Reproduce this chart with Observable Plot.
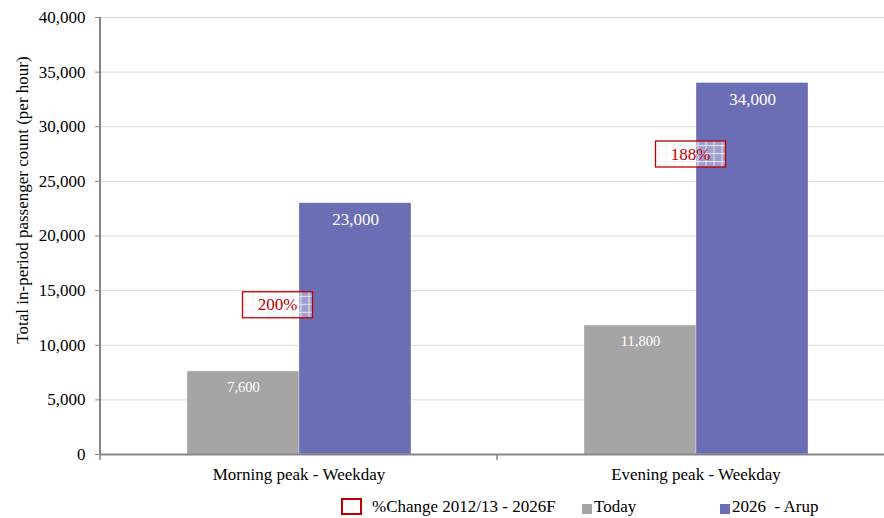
<!DOCTYPE html>
<html>
<head>
<meta charset="utf-8">
<script src="https://cdn.jsdelivr.net/npm/d3@7"></script>
<script src="https://cdn.jsdelivr.net/npm/@observablehq/plot@0.6"></script>
<style>
  body { margin: 0; background: #fff; font-family: "Liberation Serif", "Times New Roman", serif; }
  #chart svg { display: block; overflow: hidden; }
  #chart svg text { font-family: "Liberation Serif", "Times New Roman", serif !important; }
  #legend { position: relative; width: 884px; height: 26px; font-size: 17px; color: #000; }
  #legend .item { position: absolute; top: 5px; line-height: 20px; white-space: pre; }
  #legend .box { position: absolute; box-sizing: border-box; }
</style>
</head>
<body>
<div id="chart"></div>
<div id="legend"></div>
<script>
// Passenger counts per peak period
const groups = ["Morning peak - Weekday", "Evening peak - Weekday"];
const seriesNames = ["Today", "2026  - Arup"];
const seriesColors = ["#a5a5a5", "#6b6db5"];
const today = [7600, 11800];
const arup = [23000, 34000];
// Growth annotations and the count level they sit at
const pctChange = ["200%", "188%"];
const pctAt = [13700, 27500];
const pctLegend = "%Change 2012/13 - 2026F";
const yTicks = [0, 5000, 10000, 15000, 20000, 25000, 30000, 35000, 40000];
const yLabel = "Total in-period passenger count (per hour)";

const rows = groups.flatMap((g, i) => [
  {group: g, series: seriesNames[0], value: today[i]},
  {group: g, series: seriesNames[1], value: arup[i]}
]);
const pctRows = groups.map((g, i) => ({group: g, series: seriesNames[1], text: pctChange[i], y: pctAt[i]}));

const W = 884, H = 492;
const fmt = d3.format(",");
const serif = "'Liberation Serif', 'Times New Roman', serif";

const chart = Plot.plot({
  width: W,
  height: H,
  marginLeft: 100,
  marginRight: 0,
  marginTop: 17,
  marginBottom: 38,
  style: {fontFamily: serif, background: "#fff", color: "#000"},
  fx: {domain: groups, range: [100, 894], padding: 0},
  x: {domain: seriesNames, paddingInner: 0, paddingOuter: 0.757, axis: null},
  y: {domain: [0, 40000], range: [454, 17]},
  color: {domain: seriesNames, range: seriesColors},
  marks: [
    Plot.gridY(yTicks, {stroke: "#d9d9d9", strokeOpacity: 1, strokeWidth: 1}),
    Plot.barY(rows, {fx: "group", x: "series", y: "value", fill: "series",
      stroke: "#ffffff", strokeOpacity: 0.3, strokeWidth: 1}),
    Plot.text(rows, {fx: "group", x: "series", y: "value", text: d => fmt(d.value),
      fill: "white", dy: 16, fontFamily: serif, fontSize: d => d.series === seriesNames[0] ? 14.5 : 17}),
    Plot.ruleY([0], {stroke: "#868686", strokeWidth: 2}),
    Plot.text(pctRows.filter((d, i) => i === 0), {fx: "group", x: "series", y: "y", text: "text",
      fill: "#c00000", fontSize: 17, fontFamily: serif, dx: -78}),
    Plot.text(pctRows.filter((d, i) => i === 1), {fx: "group", x: "series", y: "y", text: "text",
      fill: "#c00000", fontSize: 17, fontFamily: serif, dx: -62}),
    Plot.axisY({ticks: yTicks, tickFormat: d => fmt(d), tickSize: 5, tickPadding: 10, fontSize: 17,
      stroke: "#868686", label: null}),
    Plot.axisFx({anchor: "bottom", tickSize: 0, tickPadding: 13, fontSize: 17, label: null})
  ]
});

document.getElementById("chart").appendChild(chart);

const svg = d3.select(chart);
const yS = chart.scale("y");
const fxS = chart.scale("fx");
const fxStart = g => fxS.apply ? fxS.apply(g) : fxS.range[0] + groups.indexOf(g) * fxS.step;
const y0 = yS.apply ? yS.apply(0) : 454;
const yTop = yS.apply ? yS.apply(40000) : 17;

// Hatched fill used behind the growth labels
const defs = svg.insert("defs", ":first-child");
const pat = defs.append("pattern").attr("id", "pctgrid")
  .attr("width", 8).attr("height", 8).attr("patternUnits", "userSpaceOnUse");
pat.append("rect").attr("width", 8).attr("height", 8).attr("fill", "rgba(255,255,255,0.35)");
pat.append("path").attr("d", "M7.5 0V8M0 7.5H8").attr("stroke", "rgba(240,240,246,0.85)").attr("stroke-width", 1);

// Boxes around the growth labels
svg.selectAll("text").filter(function() { return pctChange.includes(this.textContent); }).each(function() {
  const bb = this.getBBox();
  const cx = bb.x + bb.width / 2, cy = bb.y + bb.height / 2;
  const r = d3.select(this.parentNode).insert("rect", () => this)
    .attr("x", cx - 35).attr("y", cy - 13).attr("width", 70).attr("height", 26)
    .attr("fill", "url(#pctgrid)").attr("stroke", "#c00000").attr("stroke-width", 1.3);
  const t = this.getAttribute("transform");
  if (t) r.attr("transform", t);
});

// Value axis line, its title and category boundary ticks
const axisG = svg.append("g").attr("stroke", "#868686");
axisG.append("line").attr("x1", 100).attr("x2", 100).attr("y1", yTop).attr("y2", y0 + 1).attr("stroke-width", 2);
groups.forEach(g => {
  const x = fxStart(g);
  axisG.append("line").attr("x1", x).attr("x2", x).attr("y1", y0).attr("y2", y0 + 6).attr("stroke-width", 1.5);
});
svg.append("text")
  .attr("transform", "translate(22,200) rotate(-90)")
  .attr("text-anchor", "middle").attr("dy", "0.35em")
  .attr("font-size", 17).attr("fill", "#000")
  .text(yLabel);

// Legend
const legend = d3.select("#legend");
legend.append("div").attr("class", "box")
  .style("left", "341px").style("top", "6px").style("width", "21px").style("height", "17px")
  .style("border", "2px solid #c00000");
legend.append("div").attr("class", "item").style("left", "372px").text(pctLegend);
[[582, 594], [720, 732]].forEach(([bx, tx], i) => {
  legend.append("div").attr("class", "box")
    .style("left", bx + "px").style("top", "12px").style("width", "10px").style("height", "10px")
    .style("background", seriesColors[i]);
  legend.append("div").attr("class", "item").style("left", tx + "px").text(seriesNames[i]);
});
</script>
</body>
</html>
